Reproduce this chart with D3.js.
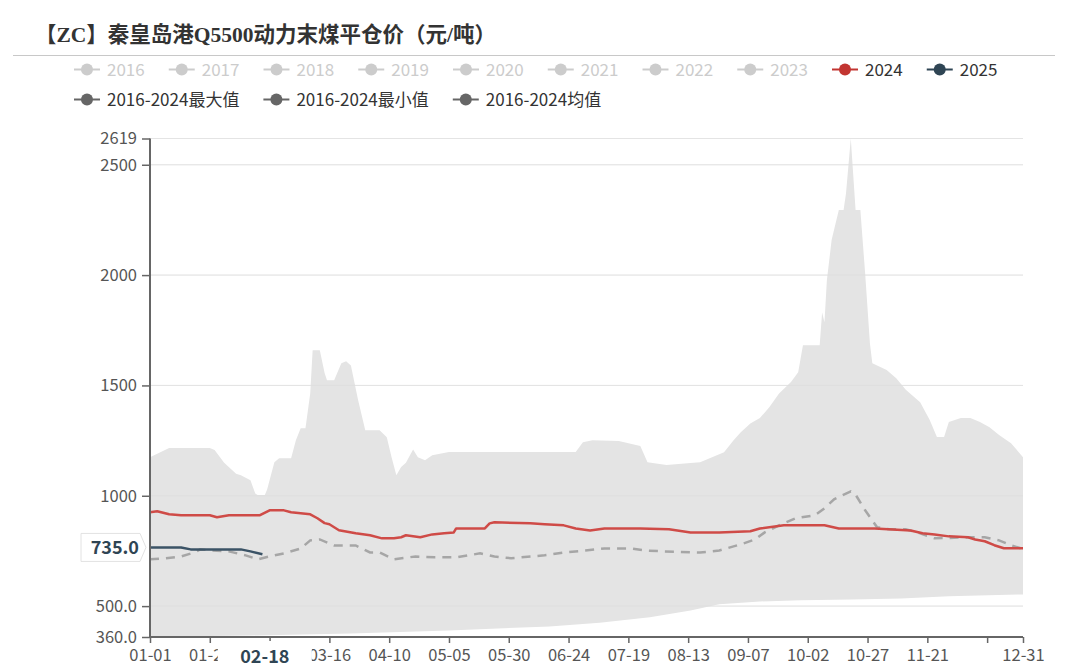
<!DOCTYPE html>
<html><head><meta charset="utf-8">
<script src="https://cdn.jsdelivr.net/npm/d3@7/dist/d3.min.js"></script>
<style>body{margin:0;background:#fff}svg{display:block}</style>
</head><body><svg id="c" width="1080" height="671"></svg>
<script>
const titleText = "【ZC】秦皇岛港Q5500动力末煤平仓价（元/吨）";
const legendYears = ["2016","2017","2018","2019","2020","2021","2022","2023","2024","2025"];
const legendStats = ["2016-2024最大值","2016-2024最小值","2016-2024均值"];
const yTickValues = [360, 500, 1000, 1500, 2000, 2500, 2619];
const yTickLabels = ["360.0","500.0","1000","1500","2000","2500","2619"];
const xTickLabels = ["01-01","01-26","02-20","03-16","04-10","05-05","05-30","06-24","07-19","08-13","09-07","10-02","10-27","11-21","12-16","12-31"];
const xHiddenLabels = ["02-20","12-16"];
const pointerDate = "02-18";
const pointerValue = "735.0";

// categories: each day of 2024
const categories = d3.timeDays(new Date(2024,0,1), new Date(2025,0,1)).map(d3.timeFormat("%m-%d"));

// 2016-2024 max
const maxSeries = [["01-01",1175],["01-09",1216],["01-26",1216],["01-28",1207],["02-01",1150],["02-06",1100],["02-08",1093],["02-12",1070],["02-14",1010],["02-15",1003],["02-18",1003],["02-19",1030],["02-22",1152],["02-24",1170],["02-29",1170],["03-02",1252],["03-04",1306],["03-06",1306],["03-08",1465],["03-09",1660],["03-12",1660],["03-14",1556],["03-15",1524],["03-18",1524],["03-21",1600],["03-23",1610],["03-25",1590],["03-28",1434],["03-31",1297],["04-06",1297],["04-09",1265],["04-11",1175],["04-13",1093],["04-15",1130],["04-17",1150],["04-20",1210],["04-22",1175],["04-25",1161],["04-28",1184],["05-05",1198],["06-27",1198],["06-30",1243],["07-04",1252],["07-15",1248],["07-24",1225],["07-27",1152],["08-04",1139],["08-14",1148],["08-18",1152],["08-23",1175],["08-28",1197],["09-01",1252],["09-04",1288],["09-08",1328],["09-12",1352],["09-16",1402],["09-20",1464],["09-25",1515],["09-28",1560],["09-30",1682],["10-07",1682],["10-08",1830],["10-09",1786],["10-10",1977],["10-12",2160],["10-15",2295],["10-17",2295],["10-18",2371],["10-20",2619],["10-22",2295],["10-24",2295],["10-26",2008],["10-28",1690],["10-29",1600],["11-04",1570],["11-08",1533],["11-12",1480],["11-18",1424],["11-22",1343],["11-25",1266],["11-28",1266],["11-30",1334],["12-05",1352],["12-09",1352],["12-13",1334],["12-17",1311],["12-21",1275],["12-26",1238],["12-31",1175]];
// 2016-2024 min
const minSeries = [["01-01",361],["02-12",367],["03-25",376],["05-05",390],["06-16",408],["07-07",425],["07-28",450],["08-14",480],["08-26",508],["09-12",521],["09-29",526],["10-20",530],["11-10",535],["11-30",545],["12-31",553]];
// 2016-2024 average
const avgSeries = [["01-01",712],["01-07",716],["01-14",725],["01-20",745],["01-22",757],["01-26",753],["02-03",748],["02-10",730],["02-15",712],["02-20",725],["02-26",739],["03-04",761],["03-08",798],["03-12",802],["03-18",775],["03-27",775],["04-02",743],["04-06",743],["04-12",712],["04-21",725],["04-29",721],["05-08",721],["05-18",739],["05-24",725],["05-31",717],["06-14",730],["06-22",743],["07-01",752],["07-09",761],["07-20",761],["07-26",752],["08-03",748],["08-18",743],["08-26",752],["09-04",780],["09-10",802],["09-14",834],["09-20",866],["09-27",898],["10-05",912],["10-09",943],["10-13",984],["10-20",1020],["10-22",1005],["10-26",934],["10-31",857],["11-05",848],["11-12",848],["11-18",830],["11-24",807],["12-09",812],["12-15",812],["12-21",798],["12-26",776],["12-30",762]];
// 2024
const series2024 = [["01-01",925],["01-04",930],["01-09",916],["01-14",912],["01-26",912],["01-29",903],["02-03",912],["02-16",912],["02-20",934],["02-26",934],["02-29",925],["03-08",916],["03-11",898],["03-14",876],["03-16",871],["03-20",844],["03-27",830],["04-02",821],["04-07",807],["04-12",807],["04-15",812],["04-17",821],["04-23",812],["04-28",825],["05-03",830],["05-07",834],["05-08",852],["05-20",852],["05-22",875],["05-24",880],["06-08",875],["06-14",871],["06-22",866],["06-27",852],["07-03",843],["07-09",852],["07-24",852],["08-05",848],["08-14",834],["08-26",834],["09-08",839],["09-12",852],["09-22",866],["10-09",866],["10-15",852],["10-30",852],["11-14",843],["11-19",830],["11-24",825],["11-30",816],["12-08",812],["12-11",802],["12-15",794],["12-19",776],["12-23",762],["12-31",762]];
// 2025
const series2025 = [["01-01",766],["01-14",766],["01-18",757],["01-30",757],["02-08",757],["02-12",748],["02-17",735]];

const svg = d3.select("#c");
const FONT = "'Microsoft YaHei','Noto Sans CJK SC','Noto Sans',sans-serif";
const L = 150, R = 1023, T = 138.5, B = 637;
const x = d3.scalePoint().domain(categories).range([L, R]);
const y = d3.scaleLinear().domain([360, 2619]).range([B, T]);

// Title
svg.append("text").attr("x", 35).attr("y", 42)
  .attr("font-family", "'Liberation Serif','Noto Sans CJK SC',serif")
  .attr("font-weight", "bold").attr("font-size", 21.5).attr("fill", "#333").text(titleText);
svg.append("line").attr("x1", 13).attr("x2", 1055).attr("y1", 55.5).attr("y2", 55.5)
  .attr("stroke", "#c8c8c8").attr("stroke-width", 1.2);

// Legend
function legendRow(items, yc, startX, styleFn) {
  let cx = startX;
  items.forEach((name, i) => {
    const st = styleFn(name, i);
    const g = svg.append("g");
    g.append("line").attr("x1", cx).attr("x2", cx + 26).attr("y1", yc).attr("y2", yc)
      .attr("stroke", st.color).attr("stroke-width", 2);
    g.append("circle").attr("cx", cx + 13).attr("cy", yc).attr("r", 6).attr("fill", st.color);
    const t = g.append("text").attr("x", cx + 33).attr("y", yc + 6)
      .attr("font-family", FONT).attr("font-size", 17).attr("fill", st.text).text(name);
    cx += 33 + t.node().getComputedTextLength() + 24;
  });
}
legendRow(legendYears, 69.5, 74, (n) => {
  if (n === "2024") return {color: "#c23531", text: "#333"};
  if (n === "2025") return {color: "#2f4554", text: "#333"};
  return {color: "#ccc", text: "#ccc"};
});
legendRow(legendStats, 99.5, 74, () => ({color: "#666", text: "#333"}));

// Grid
svg.append("g").selectAll("line").data(yTickValues.filter(v => v !== 360)).join("line")
  .attr("x1", L).attr("x2", R).attr("y1", d => y(d)).attr("y2", d => y(d))
  .attr("stroke", "#ececec").attr("stroke-width", 1);

// Band max-min
const pts = maxSeries.map(d => [x(d[0]), y(d[1])])
  .concat(minSeries.slice().reverse().map(d => [x(d[0]), y(d[1])]));
svg.append("path").attr("d", d3.line()(pts) + "Z").attr("fill", "#e4e4e4");

// Grid lines visible over band (faint)
svg.append("g").selectAll("line").data(yTickValues.filter(v => v !== 360)).join("line")
  .attr("x1", L).attr("x2", R).attr("y1", d => y(d)).attr("y2", d => y(d))
  .attr("stroke", "#dcdcdc").attr("stroke-width", 1).attr("stroke-opacity", 0.5);

const line = d3.line().x(d => x(d[0])).y(d => y(d[1]));
svg.append("path").attr("d", line(avgSeries)).attr("fill", "none")
  .attr("stroke", "#a6a6a6").attr("stroke-width", 2.5).attr("stroke-dasharray", "9,7");
svg.append("path").attr("d", line(series2024)).attr("fill", "none")
  .attr("stroke", "#cf4b47").attr("stroke-width", 2.5).attr("stroke-linejoin", "round");
svg.append("path").attr("d", line(series2025)).attr("fill", "none")
  .attr("stroke", "#3b5366").attr("stroke-width", 2.5).attr("stroke-linejoin", "round");

// Y axis
const yAxis = svg.append("g").attr("transform", `translate(${L},0)`)
  .call(d3.axisLeft(y).tickValues(yTickValues).tickSize(8).tickPadding(5)
    .tickFormat((d, i) => yTickLabels[i]));
yAxis.select(".domain").attr("stroke", "#666").attr("stroke-width", 2).attr("d", `M0,${T}V${B}`);
yAxis.selectAll(".tick line").attr("stroke", "#666").attr("stroke-width", 1.5);
yAxis.selectAll(".tick text").attr("font-family", FONT).attr("font-size", 16.5).attr("fill", "#555");

// X axis
const xAxis = svg.append("g").attr("transform", `translate(0,${B})`)
  .call(d3.axisBottom(x).tickValues(xTickLabels).tickSize(6).tickPadding(6)
    .tickFormat(d => xHiddenLabels.includes(d) ? "" : d));
xAxis.select(".domain").attr("stroke", "#666").attr("stroke-width", 2).attr("d", `M${L},0H${R}`);
xAxis.selectAll(".tick line").attr("stroke", "#666").attr("stroke-width", 1.5);
xAxis.selectAll(".tick text").attr("font-family", FONT).attr("font-size", 16.5).attr("fill", "#555");

// Axis pointer label on x axis
const px = x(pointerDate);
svg.append("rect").attr("x", px - 47).attr("y", B + 4).attr("width", 94).attr("height", 30).attr("fill", "#fff");
svg.append("text").attr("x", px).attr("y", B + 26).attr("text-anchor", "middle")
  .attr("font-family", FONT).attr("font-weight", "bold").attr("font-size", 18).attr("fill", "#2f4554").text(pointerDate);

// Axis pointer label on y axis
const py = y(series2025[0][1]);
const bx0 = 81, bx1 = 140, tip = 146, hh = 14;
svg.append("path").attr("d", `M${bx0},${py-hh}H${bx1}L${tip},${py}L${bx1},${py+hh}H${bx0}Z`)
  .attr("fill", "#fff").attr("stroke", "#e2e2e2").attr("stroke-width", 1);
svg.append("text").attr("x", 139).attr("y", py + 6.5).attr("text-anchor", "end")
  .attr("font-family", FONT).attr("font-weight", "bold").attr("font-size", 18).attr("fill", "#2f4554").text(pointerValue);
</script></body></html>
